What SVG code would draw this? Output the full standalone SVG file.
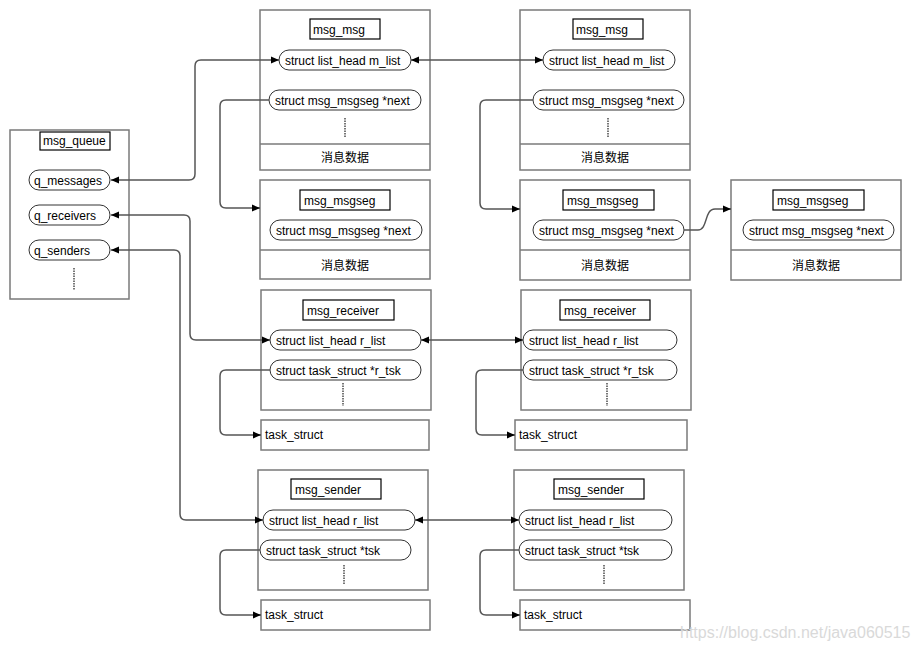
<svg xmlns="http://www.w3.org/2000/svg" width="924" height="650" viewBox="0 0 924 650">
<defs>
<marker id="ah" viewBox="0 0 8 8" refX="8" refY="4" markerWidth="8" markerHeight="8" markerUnits="userSpaceOnUse" orient="auto-start-reverse">
<path d="M0,0.5 L8,4 L0,7.5 z" fill="#000"/>
</marker>
<style>
text{font-family:"Liberation Sans",Arial,"Noto Sans CJK SC",sans-serif;font-size:12px;fill:#000}
.box{fill:#fff;stroke:#7a7a7a;stroke-width:1.5}
.sep{stroke:#7a7a7a;stroke-width:1.5}
.title{fill:#fff;stroke:#000;stroke-width:1.2}
.pill{fill:#fff;stroke:#333;stroke-width:1}
.dots{stroke:#777;stroke-width:2;stroke-dasharray:1.5 1}
.c{fill:none;stroke:#555;stroke-width:1.5}
.cn{text-anchor:middle}
.wm{font-size:16px;fill:#d9d9d9}
</style>
</defs>
<rect width="924" height="650" fill="#fff"/>

<g id="msg_queue">
<rect class="box" x="10" y="130" width="119" height="169"/>
<rect class="title" x="40" y="132" width="70" height="18"/>
<text x="43" y="145">msg_queue</text>
<rect class="pill" x="29" y="170" width="81" height="20" rx="10"/>
<text x="34" y="184.5">q_messages</text>
<rect class="pill" x="29" y="205" width="81" height="20" rx="10"/>
<text x="34" y="219.5">q_receivers</text>
<rect class="pill" x="29" y="240" width="81" height="20" rx="10"/>
<text x="34" y="254.5">q_senders</text>
<line class="dots" x1="74" y1="268" x2="74" y2="290"/>
</g>

<g id="msg_msg_1">
<rect class="box" x="260" y="10" width="170" height="160"/>
<line class="sep" x1="260" y1="144" x2="430" y2="144"/>
<rect class="title" x="310" y="19" width="70" height="20"/>
<text x="313" y="33.5">msg_msg</text>
<rect class="pill" x="279" y="50" width="132" height="20" rx="10"/>
<text x="285" y="64.5">struct list_head m_list</text>
<rect class="pill" x="269" y="90" width="152" height="20" rx="10"/>
<text x="275" y="104.5">struct msg_msgseg *next</text>
<line class="dots" x1="345" y1="118" x2="345" y2="137"/>
<text class="cn" x="345" y="162">消息数据</text>
</g>

<g id="msg_msg_2">
<rect class="box" x="520" y="10" width="170" height="160"/>
<line class="sep" x1="520" y1="144" x2="690" y2="144"/>
<rect class="title" x="573" y="19" width="70" height="20"/>
<text x="576" y="33.5">msg_msg</text>
<rect class="pill" x="543" y="50" width="132" height="20" rx="10"/>
<text x="549" y="64.5">struct list_head m_list</text>
<rect class="pill" x="533" y="90" width="151" height="20" rx="10"/>
<text x="539" y="104.5">struct msg_msgseg *next</text>
<line class="dots" x1="608" y1="118" x2="608" y2="137"/>
<text class="cn" x="605" y="162">消息数据</text>
</g>

<g id="msg_msgseg_1">
<rect class="box" x="260" y="180" width="170" height="99"/>
<line class="sep" x1="260" y1="250" x2="430" y2="250"/>
<rect class="title" x="300" y="190" width="90" height="20"/>
<text x="304" y="204.5">msg_msgseg</text>
<rect class="pill" x="270" y="220" width="152" height="20" rx="10"/>
<text x="276" y="234.5">struct msg_msgseg *next</text>
<text class="cn" x="345" y="270">消息数据</text>
</g>

<g id="msg_msgseg_2">
<rect class="box" x="520" y="180" width="170" height="100"/>
<line class="sep" x1="520" y1="250" x2="690" y2="250"/>
<rect class="title" x="563" y="190" width="91" height="20"/>
<text x="567" y="204.5">msg_msgseg</text>
<rect class="pill" x="533" y="220" width="151" height="20" rx="10"/>
<text x="539" y="234.5">struct msg_msgseg *next</text>
<text class="cn" x="605" y="270">消息数据</text>
</g>

<g id="msg_msgseg_3">
<rect class="box" x="731" y="180" width="170" height="100"/>
<line class="sep" x1="731" y1="250" x2="901" y2="250"/>
<rect class="title" x="773" y="190" width="91" height="20"/>
<text x="777" y="204.5">msg_msgseg</text>
<rect class="pill" x="743" y="220" width="151" height="20" rx="10"/>
<text x="749" y="234.5">struct msg_msgseg *next</text>
<text class="cn" x="816" y="270">消息数据</text>
</g>

<g id="msg_receiver_1">
<rect class="box" x="261" y="290" width="170" height="120"/>
<rect class="title" x="303" y="300" width="91" height="20"/>
<text x="307" y="314.5">msg_receiver</text>
<rect class="pill" x="270" y="330" width="151" height="20" rx="10"/>
<text x="276" y="344.5">struct list_head r_list</text>
<rect class="pill" x="270" y="360" width="151" height="20" rx="10"/>
<text x="276" y="374.5">struct task_struct *r_tsk</text>
<line class="dots" x1="343" y1="383" x2="343" y2="406"/>
</g>
<g id="task_struct_r1">
<rect class="box" x="261" y="420" width="168" height="30"/>
<text x="265" y="439">task_struct</text>
</g>

<g id="msg_receiver_2">
<rect class="box" x="521" y="290" width="170" height="120"/>
<rect class="title" x="560" y="300" width="90" height="20"/>
<text x="564" y="314.5">msg_receiver</text>
<rect class="pill" x="523" y="330" width="154" height="20" rx="10"/>
<text x="529" y="344.5">struct list_head r_list</text>
<rect class="pill" x="523" y="360" width="154" height="20" rx="10"/>
<text x="529" y="374.5">struct task_struct *r_tsk</text>
<line class="dots" x1="607" y1="383" x2="607" y2="406"/>
</g>
<g id="task_struct_r2">
<rect class="box" x="515" y="420" width="172" height="30"/>
<text x="519" y="439">task_struct</text>
</g>

<g id="msg_sender_1">
<rect class="box" x="258" y="470" width="170" height="120"/>
<rect class="title" x="291" y="479" width="90" height="20"/>
<text x="295" y="493.5">msg_sender</text>
<rect class="pill" x="263" y="510" width="152" height="20" rx="10"/>
<text x="269" y="524.5">struct list_head r_list</text>
<rect class="pill" x="260" y="540" width="151" height="20" rx="10"/>
<text x="266" y="554.5">struct task_struct *tsk</text>
<line class="dots" x1="344" y1="565" x2="344" y2="585"/>
</g>
<g id="task_struct_s1">
<rect class="box" x="261" y="600" width="169" height="30"/>
<text x="265" y="619">task_struct</text>
</g>

<g id="msg_sender_2">
<rect class="box" x="514" y="470" width="170" height="120"/>
<rect class="title" x="554" y="479" width="90" height="20"/>
<text x="558" y="493.5">msg_sender</text>
<rect class="pill" x="519" y="510" width="153" height="20" rx="10"/>
<text x="525" y="524.5">struct list_head r_list</text>
<rect class="pill" x="519" y="540" width="153" height="20" rx="10"/>
<text x="525" y="554.5">struct task_struct *tsk</text>
<line class="dots" x1="604" y1="565" x2="604" y2="585"/>
</g>
<g id="task_struct_s2">
<rect class="box" x="520" y="600" width="170" height="30"/>
<text x="524" y="619">task_struct</text>
</g>

<g id="connectors">
<path class="c" d="M111,180 L189,180 Q195,180 195,174 L195,66 Q195,60 201,60 L279,60" marker-start="url(#ah)" marker-end="url(#ah)"/>
<path class="c" d="M111,215 L184,215 Q190,215 190,221 L190,334 Q190,340 196,340 L270,340" marker-start="url(#ah)" marker-end="url(#ah)"/>
<path class="c" d="M111,250 L174,250 Q180,250 180,256 L180,514 Q180,520 186,520 L263,520" marker-start="url(#ah)" marker-end="url(#ah)"/>
<path class="c" d="M411,60 L543,60" marker-start="url(#ah)" marker-end="url(#ah)"/>
<path class="c" d="M269,100 L226,100 Q220,100 220,106 L220,202 Q220,208 226,208 L260,208" marker-end="url(#ah)"/>
<path class="c" d="M533,100 L486,100 Q480,100 480,106 L480,203 Q480,209 486,209 L520,209" marker-end="url(#ah)"/>
<path class="c" d="M684,230 L698,230 C708,230 704,209 715,209 L731,209" marker-end="url(#ah)"/>
<path class="c" d="M421,340 L523,340" marker-start="url(#ah)" marker-end="url(#ah)"/>
<path class="c" d="M270,370 L226,370 Q220,370 220,376 L220,429 Q220,435 226,435 L261,435" marker-end="url(#ah)"/>
<path class="c" d="M523,370 L482,370 Q476,370 476,376 L476,429 Q476,435 482,435 L515,435" marker-end="url(#ah)"/>
<path class="c" d="M415,520 L519,520" marker-start="url(#ah)" marker-end="url(#ah)"/>
<path class="c" d="M260,550 L226,550 Q220,550 220,556 L220,609 Q220,615 226,615 L261,615" marker-end="url(#ah)"/>
<path class="c" d="M519,550 L486,550 Q480,550 480,556 L480,609 Q480,615 486,615 L520,615" marker-end="url(#ah)"/>
</g>

<text class="wm" x="680" y="638">https://blog.csdn.net/java060515</text>
</svg>
